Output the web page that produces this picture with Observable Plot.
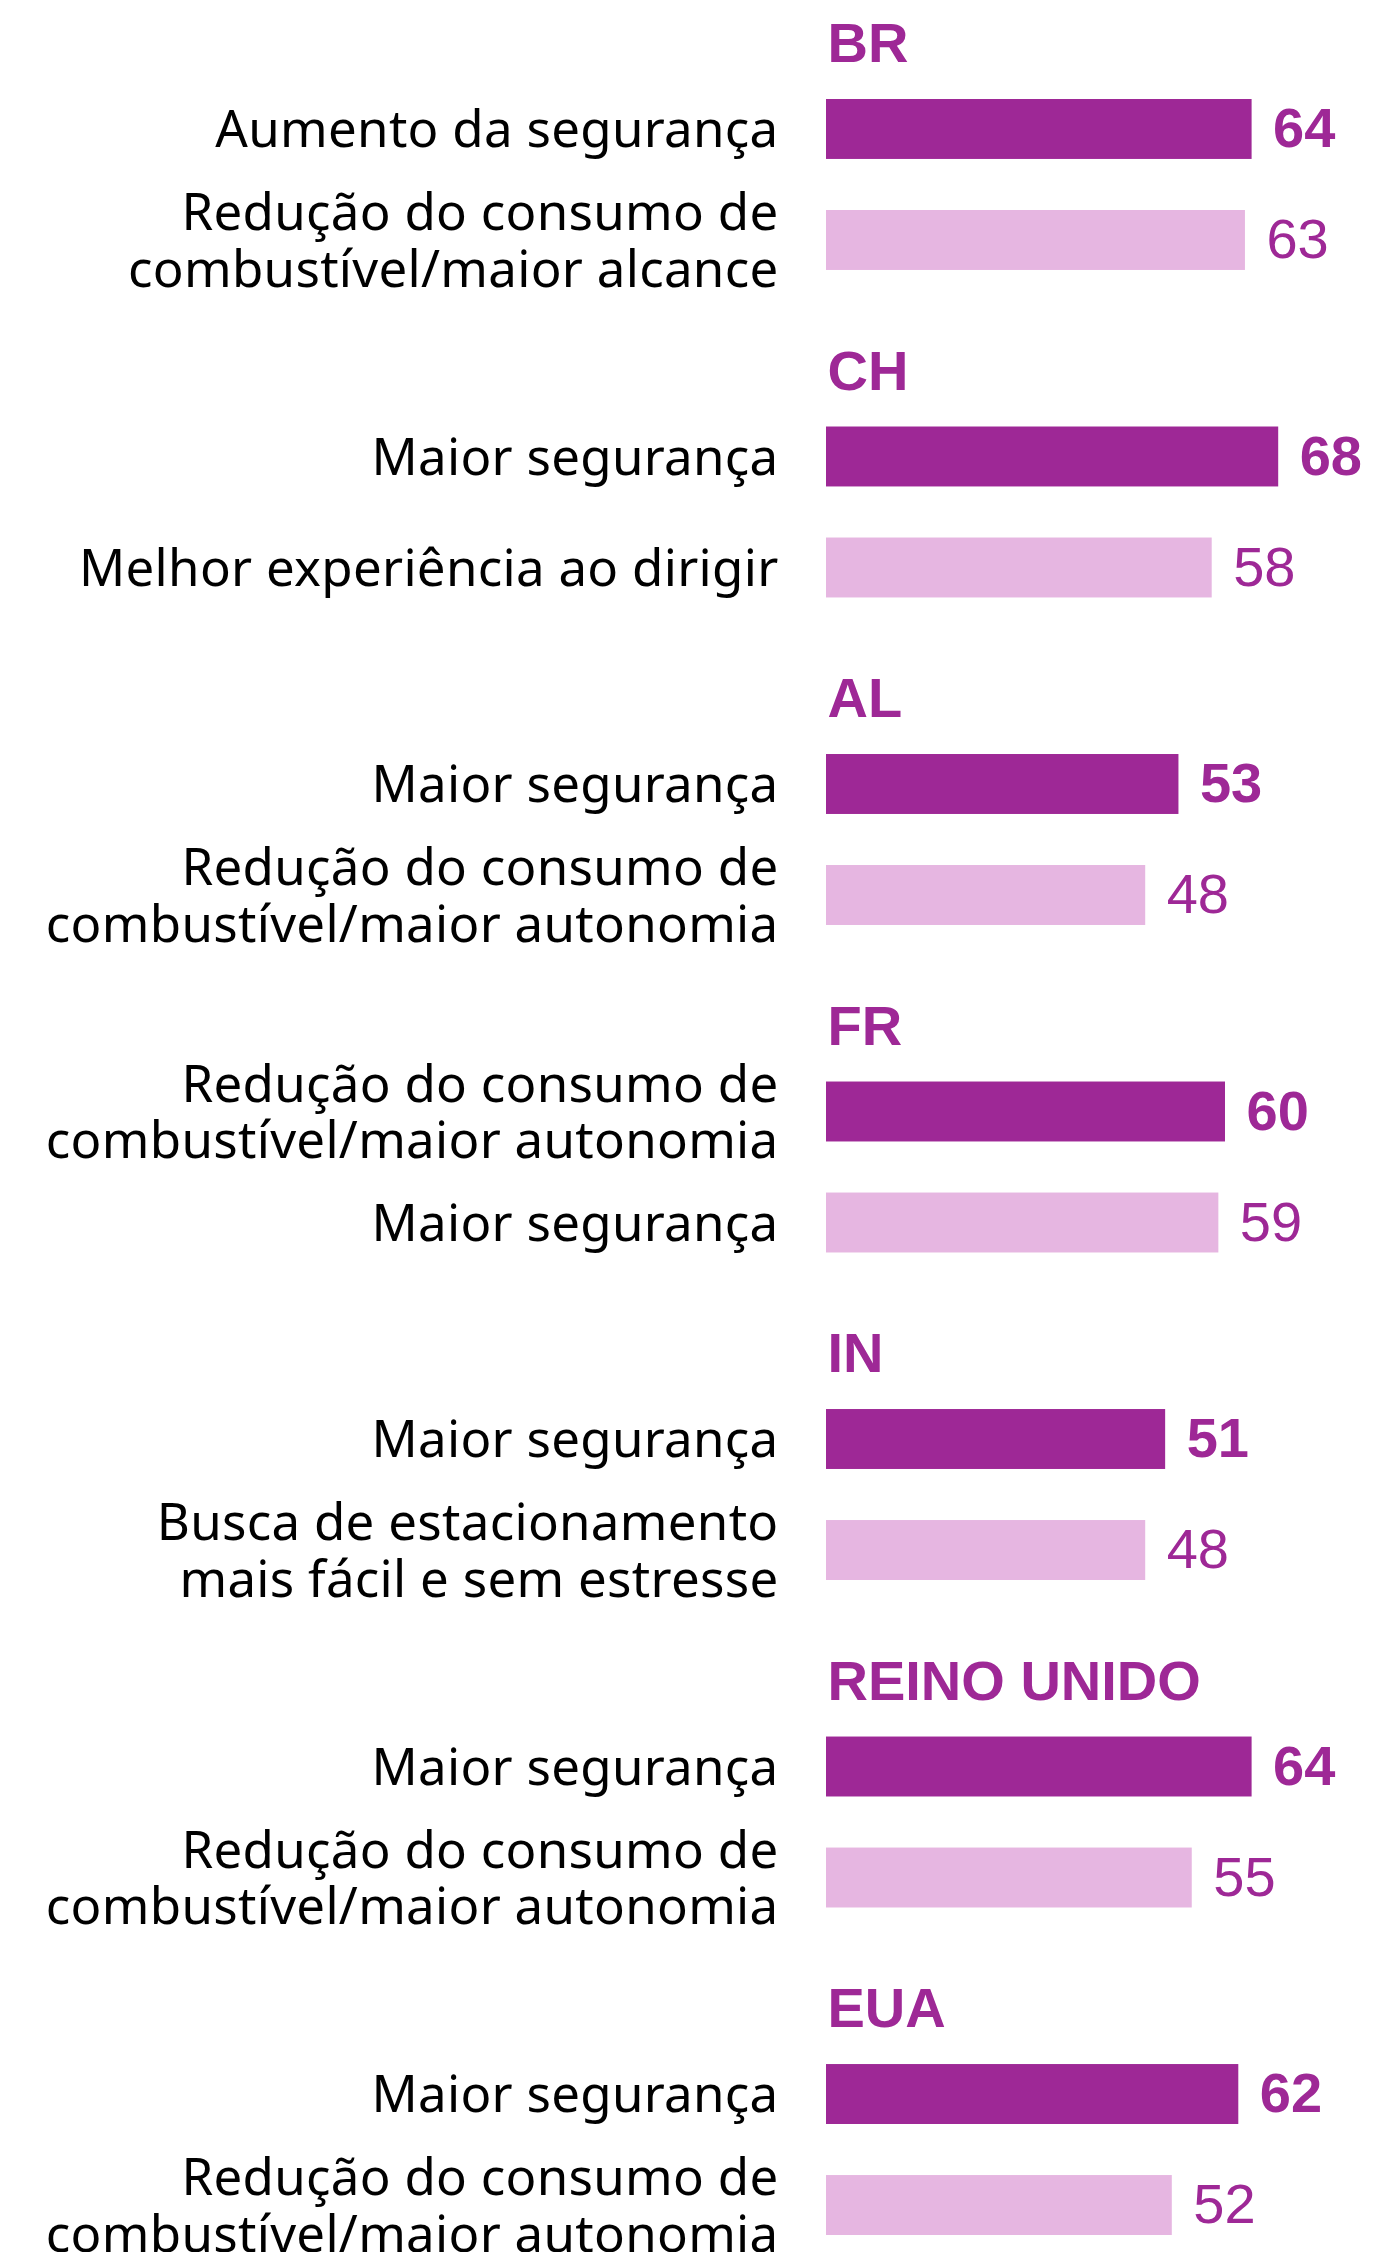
<!DOCTYPE html>
<html>
<head>
<meta charset="utf-8">
<script src="https://cdn.jsdelivr.net/npm/d3@7"></script>
<script src="https://cdn.jsdelivr.net/npm/@observablehq/plot@0.6"></script>
<style>
  html, body { margin: 0; padding: 0; background: #ffffff; }
  #chart svg { display: block; }
  #chart g[font-family="Noto Sans"] { letter-spacing: 0.3px; }
</style>
</head>
<body>
<div id="chart"></div>
<script>
// Countries (groups), in display order
const countries = ["BR", "CH", "AL", "FR", "IN", "REINO UNIDO", "EUA"];

// First (top) benefit per country
const firstLabels = [
  "Aumento da segurança",
  "Maior segurança",
  "Maior segurança",
  "Redução do consumo de\ncombustível/maior autonomia",
  "Maior segurança",
  "Maior segurança",
  "Maior segurança"
];
const firstValues = [64, 68, 53, 60, 51, 64, 62];

// Second benefit per country
const secondLabels = [
  "Redução do consumo de\ncombustível/maior alcance",
  "Melhor experiência ao dirigir",
  "Redução do consumo de\ncombustível/maior autonomia",
  "Maior segurança",
  "Busca de estacionamento\nmais fácil e sem estresse",
  "Redução do consumo de\ncombustível/maior autonomia",
  "Redução do consumo de\ncombustível/maior autonomia"
];
const secondValues = [63, 58, 48, 59, 48, 55, 52];

const darkColor = "#9e2896";
const lightColor = "#e6b6e1";

const rows = [];
countries.forEach((c, i) => {
  rows.push({country: c, rank: 1, label: firstLabels[i], value: firstValues[i]});
  rows.push({country: c, rank: 2, label: secondLabels[i], value: secondValues[i]});
});

const chart = Plot.plot({
  width: 1373,
  height: 2252,
  marginTop: 99,
  marginBottom: 17,
  marginLeft: 826,
  marginRight: 15,
  style: {background: "#ffffff"},
  facet: {data: rows, y: "country", marginTop: 0, marginBottom: 0, marginLeft: 0, marginRight: 0},
  fy: {domain: countries, axis: null, paddingInner: 0.478, paddingOuter: 0, round: false, label: null},
  y: {domain: [1, 2], axis: null, paddingInner: 0.46, paddingOuter: 0, round: false, label: null},
  x: {domain: [0, 80], axis: null, label: null},
  marks: [
    Plot.barX(rows, {
      x: "value",
      y: "rank",
      fill: d => d.rank === 1 ? darkColor : lightColor
    }),
    // country titles
    Plot.text(rows, {
      filter: d => d.rank === 1,
      y: "rank",
      text: "country",
      frameAnchor: "left",
      textAnchor: "start",
      dx: 1,
      dy: -85,
      fill: darkColor,
      fontFamily: "Liberation Sans",
      fontWeight: "bold",
      fontSize: 56
    }),
    // category labels
    Plot.text(rows, {
      y: "rank",
      text: "label",
      frameAnchor: "left",
      textAnchor: "end",
      dx: -48,
      lineHeight: 1.1,
      fill: "#000000",
      fontFamily: "Noto Sans",
      fontSize: 51
    }),
    // values: first bold
    Plot.text(rows, {
      filter: d => d.rank === 1,
      x: "value",
      y: "rank",
      text: d => String(d.value),
      textAnchor: "start",
      dx: 21,
      fill: darkColor,
      fontFamily: "Liberation Sans",
      fontWeight: "bold",
      fontSize: 56
    }),
    Plot.text(rows, {
      filter: d => d.rank === 2,
      x: "value",
      y: "rank",
      text: d => String(d.value),
      textAnchor: "start",
      dx: 21,
      fill: darkColor,
      fontFamily: "Liberation Sans",
      fontSize: 56
    })
  ]
});

document.getElementById("chart").appendChild(chart);
</script>
</body>
</html>
